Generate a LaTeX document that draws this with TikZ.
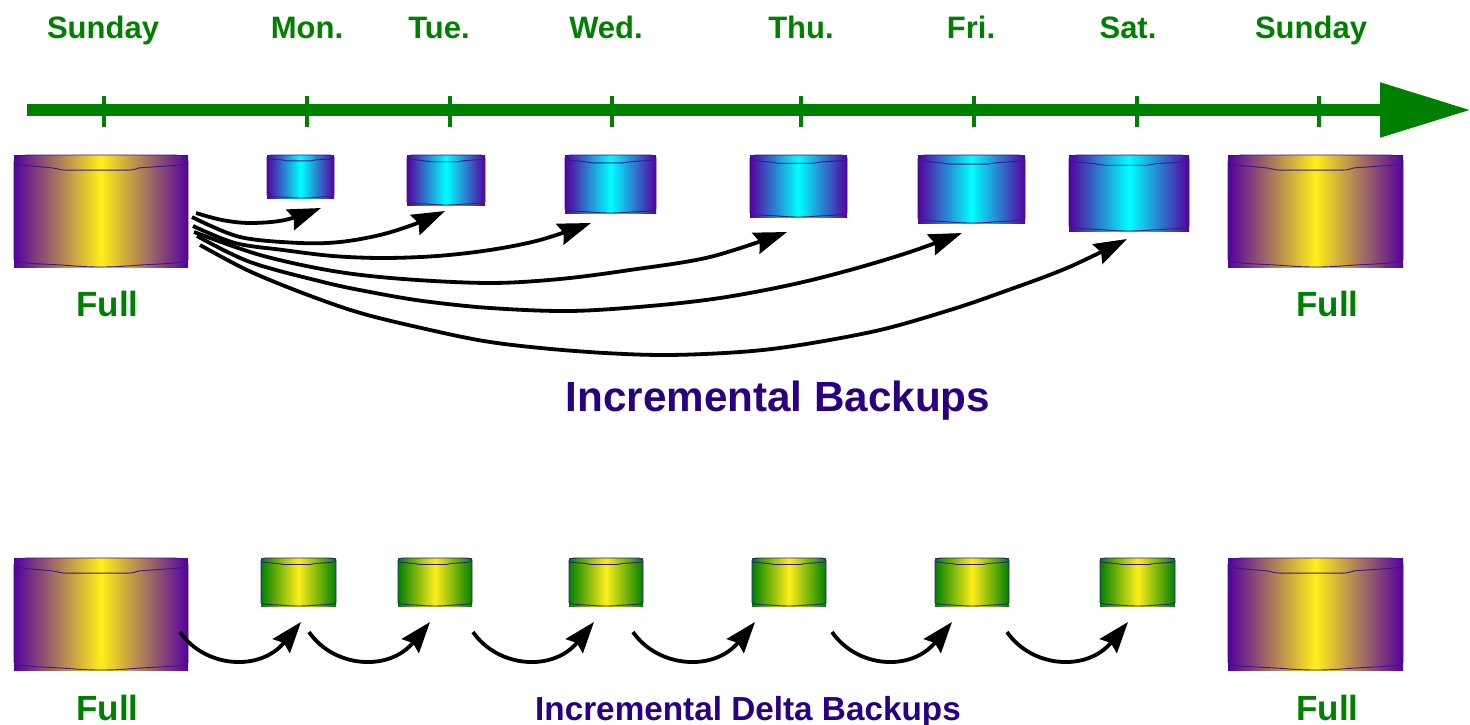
\documentclass[tikz,border=0pt]{standalone}
\usepackage{fontspec}
\setmainfont{Liberation Sans}
\usetikzlibrary{arrows.meta}
\definecolor{tlgreen}{HTML}{008000}
\definecolor{indigotext}{HTML}{290080}
\definecolor{cylpurple}{HTML}{55009F}
\definecolor{cylyellow}{HTML}{FFEE1A}
\definecolor{cylcyan}{HTML}{00FFFF}
\definecolor{cyloutline}{HTML}{341A8C}
\tikzset{
  x=1pt,y=-1pt,
  daylabel/.style={anchor=base,text=tlgreen,font=\bfseries\fontsize{31}{31}\selectfont,inner sep=0},
  fulllabel/.style={anchor=base,text=tlgreen,font=\bfseries\fontsize{35}{35}\selectfont,inner sep=0},
  titlelabel/.style={anchor=base,text=indigotext,font=\bfseries\fontsize{42.2}{42}\selectfont,inner sep=0},
  deltalabel/.style={anchor=base,text=indigotext,font=\bfseries\fontsize{33.3}{33.3}\selectfont,inner sep=0},
  fullcyl/.style={left color=cylpurple,right color=cylpurple,middle color=cylyellow},
  bluecyl/.style={left color=cylpurple,right color=cylpurple,middle color=cylcyan},
  greencyl/.style={left color=tlgreen,right color=tlgreen,middle color=cylyellow},
  cyloutl/.style={draw=cyloutline,line width=0.9pt,line join=round},
  tick/.style={draw=tlgreen,line width=4pt},
  timeline/.style={draw=tlgreen,line width=12pt,-{Triangle[length=91pt,width=52pt]}},
  backup/.style={draw=black,line width=3.8pt,line join=round,-{Stealth[length=33pt,width=22pt,inset=4pt]}},
  delta/.style={draw=black,line width=3.8pt,-{Stealth[length=31pt,width=22pt,inset=4pt]}},
  plotsm/.style={smooth,tension=.55},
}
% name, x0, x1, y0, y1, style
\newcommand{\cylinderbox}[6]{%
  \pgfmathsetmacro{\cw}{#3-#2}\pgfmathsetmacro{\ch}{#5-#4}%
  \pgfmathsetmacro{\cx}{(#2+#3)/2}\pgfmathsetmacro{\cy}{(#4+#5)/2}%
  \node[#6,minimum width=\cw pt,minimum height=\ch pt,inner sep=0,outer sep=0] (#1) at (\cx,\cy) {};
  \begin{scope}[shift={(#2,#4)},x=\cw pt,y=-\ch pt]
    \draw[cyloutl] (0,.06) .. controls (0,.015) and (.03,0) .. (.1,0) -- (.9,0)
      .. controls (.97,0) and (1,.015) .. (1,.06)
      .. controls (1,.09) and (.95,.09) .. (.72,.115) .. controls (.69,.13) and (.68,.135) .. (.65,.135)
      -- (.3,.135) .. controls (.27,.135) and (.26,.125) .. (.22,.115)
      .. controls (.05,.09) and (0,.09) .. (0,.06) -- (0,.93)
      .. controls (0,.96) and (.1,.97) .. (.25,.98) .. controls (.35,.99) and (.4,1) .. (.5,1)
      .. controls (.6,1) and (.65,.99) .. (.75,.98) .. controls (.9,.97) and (1,.96) .. (1,.93) -- (1,.06);
  \end{scope}
}
\begin{document}
\begin{tikzpicture}
\useasboundingbox (0,0) rectangle (1470,725);
% timeline
\coordinate (tlstart) at (27,110);
\coordinate (tlend) at (1471,110);
\draw[timeline] (tlstart) -- (tlend);
\foreach \tx/\tn in {104/a,307/b,450/c,612/d,801/e,974/f,1137/g,1319/h}{
  \coordinate (tt\tn) at (\tx,96);
  \coordinate (tb\tn) at (\tx,127);
  \draw[tick] (tt\tn) -- (tb\tn);
}
% day labels
\node[daylabel] (sun1) at (103,39) {Sunday};
\node[daylabel] (mon) at (307,39) {Mon.};
\node[daylabel] (tue) at (439,39) {Tue.};
\node[daylabel] (wed) at (606,39) {Wed.};
\node[daylabel] (thu) at (801,39) {Thu.};
\node[daylabel] (fri) at (971,39) {Fri.};
\node[daylabel] (sat) at (1128,39) {Sat.};
\node[daylabel] (sun2) at (1311,39) {Sunday};
% upper row
\cylinderbox{fa}{14}{188}{155}{267}{fullcyl}
\cylinderbox{ib}{267}{334}{155}{198}{bluecyl}
\cylinderbox{ic}{407}{485}{155}{205}{bluecyl}
\cylinderbox{id}{565}{656}{155}{213}{bluecyl}
\cylinderbox{ie}{750}{847}{155}{217}{bluecyl}
\cylinderbox{if}{918}{1025}{155}{223}{bluecyl}
\cylinderbox{ig}{1069}{1189}{155}{231}{bluecyl}
\cylinderbox{fb}{1228}{1403}{155}{267}{fullcyl}
\node[fulllabel] (fulla) at (107.5,316) {Full};
\node[fulllabel] (fullb) at (1327.5,316) {Full};
\node[titlelabel] (inc) at (778,411) {Incremental Backups};
% lower row
\cylinderbox{fc}{14}{188}{558}{670}{fullcyl}
\cylinderbox{gb}{261}{336}{558}{606}{greencyl}
\cylinderbox{gc}{398}{472}{558}{606}{greencyl}
\cylinderbox{gd}{569}{643}{558}{606}{greencyl}
\cylinderbox{ge}{752}{826}{558}{606}{greencyl}
\cylinderbox{gf}{935}{1009}{558}{606}{greencyl}
\cylinderbox{gg}{1100}{1175}{558}{606}{greencyl}
\cylinderbox{fd}{1228}{1403}{558}{670}{fullcyl}
\node[fulllabel] (fullc) at (107.5,720) {Full};
\node[fulllabel] (fulld) at (1327.5,720) {Full};
\node[deltalabel] (dlt) at (748,720) {Incremental Delta Backups};
% incremental arrows: free ends are named coordinates
\coordinate (sb) at (196,213); \coordinate (eb) at (321,208);
\coordinate (sc) at (192,217); \coordinate (ec) at (445,211);
\coordinate (sd) at (193,226); \coordinate (ed) at (591,223);
\coordinate (se) at (194,232); \coordinate (ee) at (787,232);
\coordinate (sf) at (197,236); \coordinate (ef) at (962,233);
\coordinate (sg) at (200,245); \coordinate (eg) at (1127,239);
\draw[backup] plot[plotsm] coordinates {(sb) (222,220) (250,223) (285,220) (eb)};
\draw[backup] plot[plotsm] coordinates {(sc) (240,237) (300,243) (340,242) (380,235) (415,224) (ec)};
\draw[backup] plot[plotsm] coordinates {(sd) (235,243) (283,250) (333,256) (383,258) (437,256) (490,250) (540,240) (ed)};
\draw[backup] plot[plotsm] coordinates {(se) (260,255) (333,271) (403,279) (490,283) (560,279) (630,270) (710,257) (ee)};
\draw[backup] plot[plotsm] coordinates {(sf) (250,262) (323,282) (370,292) (423,301) (490,308) (570,311) (650,306) (720,298) (790,285) (850,270) (910,252) (ef)};
\draw[backup] plot[plotsm] coordinates {(sg) (247,270) (300,292) (357,312) (417,327) (490,342) (575,351) (660,355) (740,352) (800,345) (880,330) (950,310) (1000,293) (1067,268) (eg)};
% delta arrows
\foreach \xa/\xc/\dn in {180/301/b,309/430/c,473/594/d,633/755/e,832/952/f,1007/1128/g}{
  \coordinate (ds\dn) at (\xa,632);
  \coordinate (de\dn) at (\xc,622);
  \draw[delta] (ds\dn) .. controls +(25,36) and +(-41,50) .. (de\dn);
}
\end{tikzpicture}
\end{document}
